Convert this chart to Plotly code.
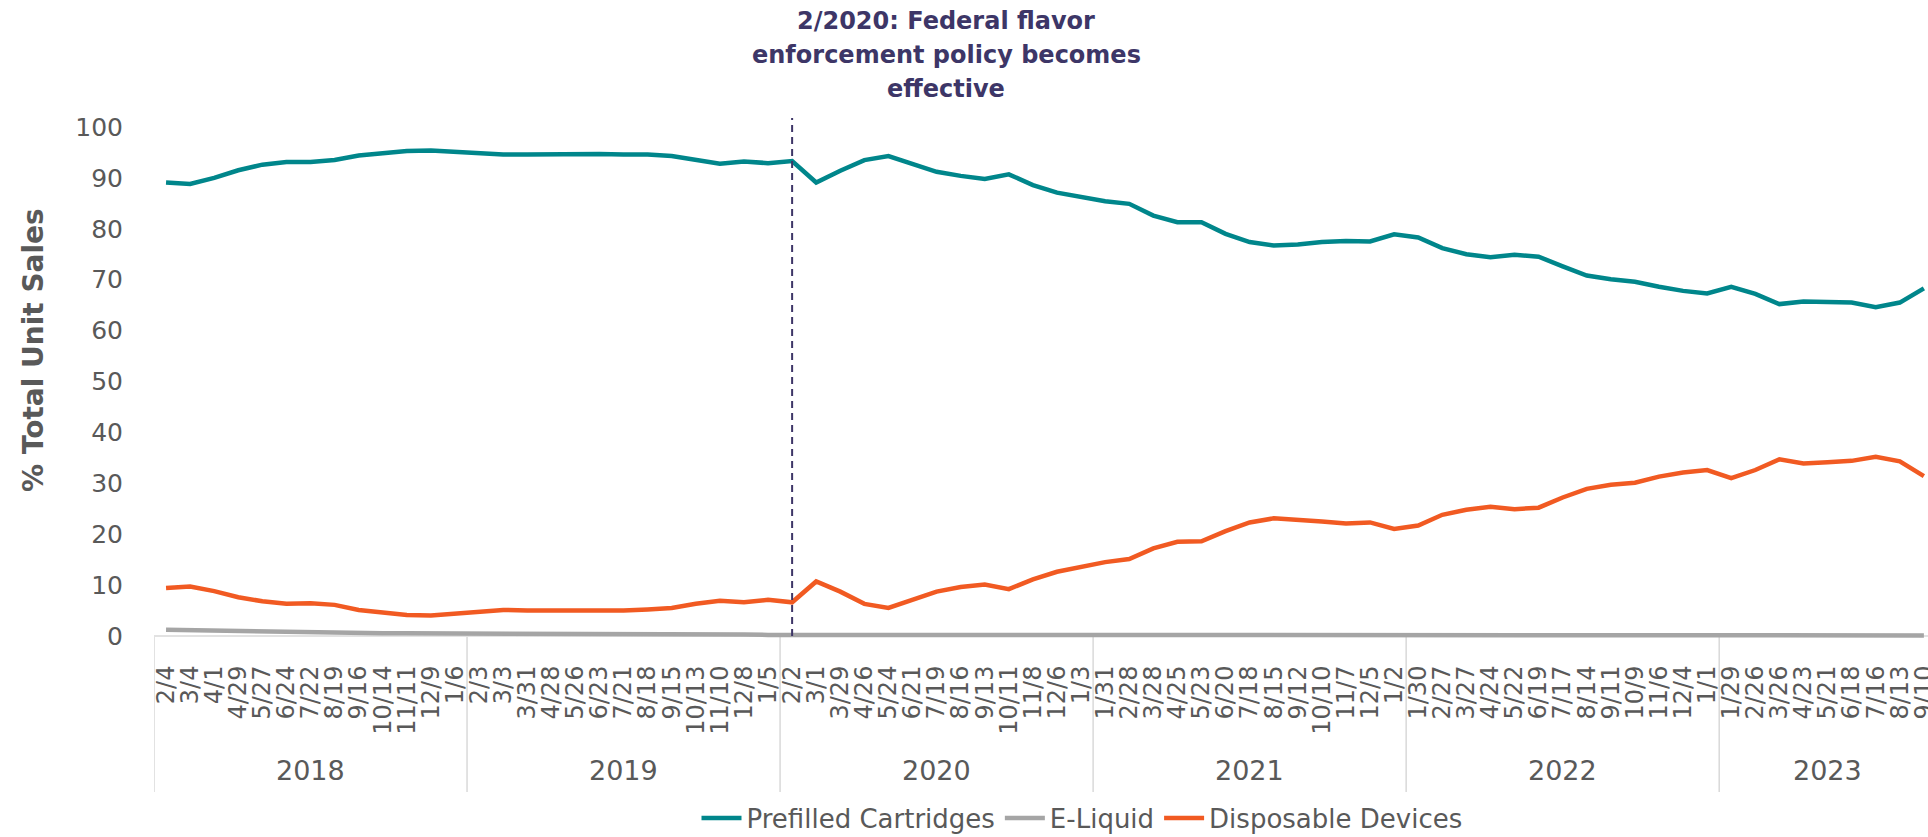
import plotly.graph_objects as go

# ---------------- data ----------------
years = ["2018", "2019", "2020", "2021", "2022", "2023"]
periods_per_year = [13, 13, 13, 13, 13, 9]
period_labels = [
    "2/4", "3/4", "4/1", "4/29", "5/27", "6/24", "7/22", "8/19", "9/16", "10/14", "11/11", "12/9", "1/6",
    "2/3", "3/3", "3/31", "4/28", "5/26", "6/23", "7/21", "8/18", "9/15", "10/13", "11/10", "12/8", "1/5",
    "2/2", "3/1", "3/29", "4/26", "5/24", "6/21", "7/19", "8/16", "9/13", "10/11", "11/8", "12/6", "1/3",
    "1/31", "2/28", "3/28", "4/25", "5/23", "6/20", "7/18", "8/15", "9/12", "10/10", "11/7", "12/5", "1/2",
    "1/30", "2/27", "3/27", "4/24", "5/22", "6/19", "7/17", "8/14", "9/11", "10/9", "11/6", "12/4", "1/1",
    "1/29", "2/26", "3/26", "4/23", "5/21", "6/18", "7/16", "8/13", "9/10",
]
prefilled = [
    89.1, 88.8, 90.0, 91.5, 92.6, 93.1, 93.1, 93.5, 94.4, 94.8,
    95.3, 95.4, 95.1, 94.7, 94.6, 94.6, 94.7, 94.7, 94.7, 94.6,
    94.6, 94.3, 93.5, 92.8, 93.2, 92.9, 93.3, 89.1, 91.4, 93.5,
    94.3, 92.7, 91.2, 90.4, 89.8, 90.7, 88.6, 87.1, 86.3, 85.4,
    84.9, 82.6, 81.3, 81.3, 79.0, 77.4, 76.7, 76.9, 77.4, 77.6,
    77.5, 78.9, 78.3, 76.2, 75.0, 74.4, 74.9, 74.5, 72.6, 70.8,
    70.1, 69.6, 68.6, 67.8, 67.3, 68.6, 67.2, 65.2, 65.7, 65.6,
    65.5, 64.6, 65.5, 68.3,
]
e_liquid = [
    1.2, 1.1, 1.0, 0.9, 0.8, 0.7, 0.7, 0.6, 0.5, 0.5,
    0.5, 0.5, 0.4, 0.4, 0.5, 0.4, 0.4, 0.4, 0.4, 0.4,
    0.3, 0.3, 0.3, 0.3, 0.3, 0.2, 0.2, 0.2, 0.2, 0.3,
    0.2, 0.2, 0.2, 0.2, 0.2, 0.2, 0.2, 0.2, 0.2, 0.2,
    0.1, 0.1, 0.1, 0.1, 0.1, 0.1, 0.1, 0.1, 0.1, 0.1,
    0.1, 0.1, 0.1, 0.1, 0.1, 0.1, 0.1, 0.1, 0.1, 0.1,
    0.1, 0.1, 0.1, 0.1, 0.1, 0.1, 0.1, 0.1, 0.1, 0.1,
    0.1, 0.1, 0.1, 0.1,
]
disposable = [
    9.4, 9.7, 8.8, 7.6, 6.8, 6.3, 6.4, 6.1, 5.1, 4.7,
    4.1, 4.0, 4.3, 4.8, 5.1, 5.0, 5.0, 4.8, 4.8, 5.0,
    5.2, 5.5, 6.3, 6.9, 6.6, 7.1, 6.6, 10.7, 8.7, 6.3,
    5.5, 7.1, 8.7, 9.6, 10.1, 9.2, 11.1, 12.6, 13.5, 14.5,
    15.1, 17.2, 18.5, 18.6, 20.6, 22.3, 23.1, 22.9, 22.5, 22.1,
    22.3, 21.0, 21.7, 23.8, 24.8, 25.4, 24.9, 25.2, 27.2, 28.9,
    29.7, 30.1, 31.3, 32.1, 32.6, 31.0, 32.6, 34.7, 33.9, 34.1,
    34.4, 35.2, 34.3, 31.4,
]
policy_period = 26  # 2/2 (2020)
policy_text = ["2/2020: Federal flavor", "enforcement policy becomes", "effective"]
y_ticks = list(range(0, 101, 10))

# ---------------- styles ----------------
FONT = "DejaVu Sans"
GRAY_TEXT = "#595959"
TEAL = "#00868B"
GREY = "#A5A5A5"
ORANGE = "#F15A22"
PURPLE = "#3D3667"
DIV = "#D9D9D9"

W, H = 1928, 837
L, R, T, B = 154, 0, 127, 196
plot_w = W - L - R
plot_h = H - T - B
x_idx = list(range(len(period_labels)))

fig = go.Figure()
for name, vals, col in [("Prefilled Cartridges", prefilled, TEAL),
                        ("E-Liquid", e_liquid, GREY),
                        ("Disposable Devices", disposable, ORANGE)]:
    fig.add_trace(go.Scatter(x=x_idx, y=vals, mode="lines", name=name,
                             line=dict(color=col, width=4.5), hoverinfo="skip"))


def paper_y(pix):
    return (H - B - pix) / plot_h


def paper_x(pix):
    return (pix - L) / plot_w


shapes = []
shapes.append(dict(type="line", xref="x", yref="y", x0=-0.5, x1=len(x_idx) - 0.5, y0=0, y1=0,
                   line=dict(color=DIV, width=1.5), layer="below"))
bound = -0.5
bounds = [bound]
for n in periods_per_year:
    bound += n
    bounds.append(bound)
for b in bounds:
    shapes.append(dict(type="line", xref="x", yref="paper", x0=b, x1=b,
                       y0=paper_y(637), y1=paper_y(792),
                       line=dict(color=DIV, width=1.5), layer="below"))
shapes.append(dict(type="line", xref="x", yref="paper", x0=policy_period, x1=policy_period,
                   y0=paper_y(636), y1=paper_y(118),
                   line=dict(color=PURPLE, width=2, dash="7px,5px")))

annotations = []
for yr, lo, hi in zip(years, bounds[:-1], bounds[1:]):
    annotations.append(dict(x=(lo + hi) / 2, y=paper_y(770), xref="x", yref="paper",
                            text=yr, showarrow=False, yanchor="middle",
                            font=dict(family=FONT, size=27, color=GRAY_TEXT)))
for j, line in enumerate(policy_text):
    annotations.append(dict(x=paper_x(946), y=paper_y(21 + 34 * j), xref="paper", yref="paper",
                            text=f"<b>{line}</b>", showarrow=False, yanchor="middle",
                            font=dict(family=FONT, size=24, color=PURPLE)))
annotations.append(dict(x=paper_x(33), y=paper_y(350), xref="paper", yref="paper",
                        text="<b>% Total Unit Sales</b>", textangle=-90, showarrow=False,
                        xanchor="center", yanchor="middle",
                        font=dict(family=FONT, size=28, color=GRAY_TEXT)))

px_per_cat = 24.08
x_max = -0.5 + plot_w / px_per_cat

fig.update_layout(
    width=W, height=H,
    margin=dict(l=L, r=R, t=T, b=B, pad=0, autoexpand=False),
    paper_bgcolor="white", plot_bgcolor="white",
    font=dict(family=FONT, color=GRAY_TEXT),
    showlegend=True,
    legend=dict(orientation="h", x=paper_x(1082), xanchor="center",
                y=paper_y(818), yanchor="middle",
                font=dict(family=FONT, size=26, color=GRAY_TEXT),
                itemwidth=40, tracegroupgap=0),
    xaxis=dict(range=[-0.5, x_max], tickmode="array", tickvals=x_idx, ticktext=period_labels,
               tickangle=-90, showgrid=False, zeroline=False, showline=False,
               ticks="outside", ticklen=14, tickcolor="rgba(0,0,0,0)",
               ticklabeloverflow="allow", automargin=False,
               tickfont=dict(family=FONT, size=24, color=GRAY_TEXT), fixedrange=True),
    yaxis=dict(range=[-1, 100], tickmode="array", tickvals=y_ticks, showgrid=False,
               zeroline=False, showline=False, ticks="", ticklabelstandoff=30, automargin=False,
               tickfont=dict(family=FONT, size=25, color=GRAY_TEXT), fixedrange=True),
    shapes=shapes, annotations=annotations,
)

fig.write_html("out.html", config={"displayModeBar": False},
               post_script="document.body.style.margin='0';document.body.style.padding='0';"
                           "document.documentElement.style.overflow='hidden';")
